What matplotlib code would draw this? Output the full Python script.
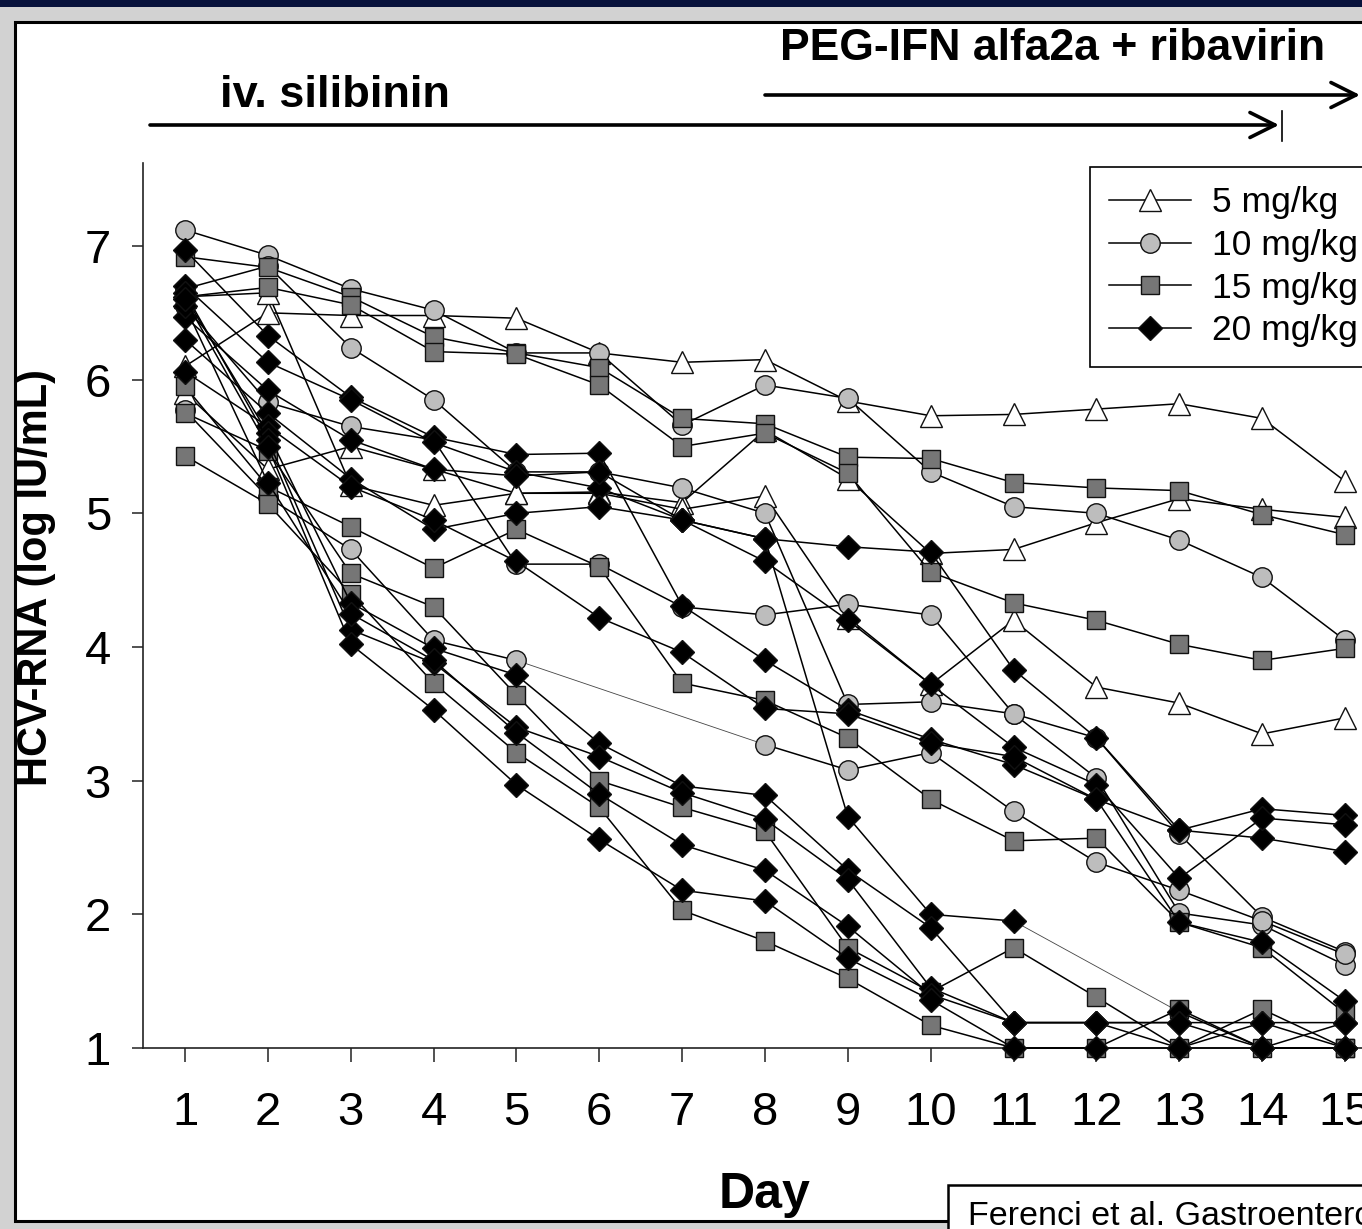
import numpy as np
import matplotlib
matplotlib.use('Agg')
import matplotlib.pyplot as plt
from matplotlib.patches import Rectangle, FancyArrowPatch
from matplotlib.lines import Line2D

plt.rcParams['font.family'] = ['Liberation Sans', 'DejaVu Sans']

nan = float('nan')
days = list(range(1, 16))
day_ticks = list(range(1, 16))
y_ticks = [1, 2, 3, 4, 5, 6, 7]

# 5 mg/kg
dose5_a = [6.10, 6.50, 6.48, 6.48, 6.46, 6.20, 6.13, 6.15, 5.84, 5.73, 5.74, 5.78, 5.82, 5.71, 5.24]
dose5_b = [5.90, 5.33, 5.50, 5.33, 5.15, 5.16, 5.08, 5.62, 5.26, 4.70, 4.73, 4.93, 5.11, 5.03, 4.97]
dose5_c = [6.62, 6.65, 5.21, 5.06, 5.15, 5.15, 5.03, 5.13, 4.22, 3.72, 4.20, 3.70, 3.58, 3.35, 3.47]
# 10 mg/kg
dose10_a = [7.12, 6.93, 6.68, 6.52, 6.20, 6.20, 5.66, 5.96, 5.86, 5.31, 5.05, 5.00, 4.80, 4.52, 4.05]
dose10_b = [6.68, 6.85, 6.24, 5.85, 5.31, 5.31, 5.19, 5.00, 3.57, 3.59, 3.50, 3.02, 2.01, 1.92, 1.62]
dose10_c = [6.55, 5.83, 5.65, 5.55, 4.62, 4.62, 4.30, 4.24, 4.32, 4.24, 3.50, 3.32, 2.60, 1.98, 1.72]
dose10_d = [5.77, 5.12, 4.73, 4.05, 3.90, nan, nan, 3.27, 3.08, 3.21, 2.77, 2.39, 2.18, 1.95, 1.70]
# 15 mg/kg
dose15_a = [6.92, 6.84, 6.62, 6.32, 6.20, 6.09, 5.71, 5.67, 5.42, 5.41, 5.23, 5.19, 5.17, 4.99, 4.84]
dose15_b = [6.62, 6.69, 6.56, 6.21, 6.19, 5.96, 5.50, 5.60, 5.30, 4.56, 4.33, 4.20, 4.02, 3.90, 3.99]
dose15_c = [5.95, 5.20, 4.90, 4.59, 4.88, 4.60, 3.73, 3.60, 3.32, 2.86, 2.55, 2.57, 1.94, 1.75, 1.26]
dose15_d = [5.75, 5.47, 4.55, 4.30, 3.64, 3.00, 2.80, 2.62, 1.75, 1.42, 1.75, 1.38, 1.00, 1.29, 1.00]
dose15_e = [5.43, 5.07, 4.40, 3.73, 3.21, 2.80, 2.03, 1.80, 1.52, 1.17, 1.00, 1.00, 1.29, 1.00, 1.00]
# 20 mg/kg
dose20_a = [6.97, 6.33, 5.87, 5.57, 5.44, 5.45, 4.31, 3.90, 3.53, 3.31, 3.12, 2.86, 2.63, 2.57, 2.47]
dose20_b = [6.70, 6.13, 5.85, 5.53, 5.31, 5.19, 4.95, 4.81, 4.75, 4.71, 3.83, 3.32, 2.63, 2.79, 2.74]
dose20_c = [6.47, 5.92, 5.55, 5.33, 5.28, 5.31, 4.95, 4.64, 4.20, 3.72, 3.25, 2.97, 2.27, 2.72, 2.67]
dose20_d = [6.30, 5.75, 5.26, 4.88, 5.00, 5.05, 4.95, 4.81, 2.73, 2.00, 1.95, nan, 1.27, 1.00, 1.00]
dose20_e = [6.06, 5.65, 5.20, 4.95, 4.64, 4.22, 3.96, 3.54, 3.50, 3.28, 3.18, 2.86, 1.94, 1.79, 1.35]
dose20_f = [6.62, 5.60, 4.33, 3.99, 3.79, 3.28, 2.96, 2.89, 2.33, 1.90, 1.19, 1.19, 1.19, 1.19, 1.19]
dose20_g = [6.65, 5.55, 4.13, 3.88, 3.40, 3.18, 2.91, 2.71, 2.26, 1.45, 1.19, 1.19, 1.00, 1.19, 1.00]
dose20_h = [6.55, 5.23, 4.25, 3.90, 3.36, 2.90, 2.52, 2.33, 1.91, 1.40, 1.19, 1.19, 1.19, 1.00, 1.19]
dose20_i = [6.60, 5.50, 4.02, 3.53, 2.97, 2.56, 2.18, 2.10, 1.67, 1.36, 1.00, 1.00, 1.00, 1.00, 1.00]

groups = [
    ('5 mg/kg', [dose5_a, dose5_b, dose5_c]),
    ('10 mg/kg', [dose10_a, dose10_b, dose10_c, dose10_d]),
    ('15 mg/kg', [dose15_a, dose15_b, dose15_c, dose15_d, dose15_e]),
    ('20 mg/kg', [dose20_a, dose20_b, dose20_c, dose20_d, dose20_e,
                  dose20_f, dose20_g, dose20_h, dose20_i]),
]
styles = {
    '5 mg/kg': dict(marker='^', mfc='white', ms=16),
    '10 mg/kg': dict(marker='o', mfc='#bdbdbd', ms=14),
    '15 mg/kg': dict(marker='s', mfc='#767676', ms=13.5),
    '20 mg/kg': dict(marker='D', mfc='black', ms=12.5),
}

W, H = 1362, 1229
fig = plt.figure(figsize=(W / 100, H / 100), dpi=100)
fig.patch.set_facecolor('#d2d2d2')

def fx(x):
    return x / W

def fy(y):
    return 1 - y / H

# background frame
fig.add_artist(Rectangle((0, fy(7)), 1, 7 / H, transform=fig.transFigure,
                         facecolor='#08123c', edgecolor='none', zorder=-20))
fig.add_artist(Rectangle((fx(15), fy(1221)), fx(1400) - fx(15), fy(22) - fy(1221),
                         transform=fig.transFigure, facecolor='white',
                         edgecolor='black', lw=2.2, zorder=-10))

px_per_day = (1345 - 185) / 14.0
x_left = 1 - (185 - 143) / px_per_day
x_right = 1 + (1386 - 185) / px_per_day
px_per_unit = (1048 - 246) / 6.0
y_top = 7 + (246 - 163) / px_per_unit

ax = fig.add_axes([fx(143), fy(1048), fx(1386) - fx(143), fy(163) - fy(1048)])
ax.set_facecolor('none')
ax.set_xlim(x_left, x_right)
ax.set_ylim(1, y_top)
for s in ['top', 'right']:
    ax.spines[s].set_visible(False)
for s in ['left', 'bottom']:
    ax.spines[s].set_linewidth(1.2)
    ax.spines[s].set_color('#222222')

ax.set_xticks(day_ticks)
ax.set_yticks(y_ticks)
ax.tick_params(axis='y', direction='out', length=8, width=1.1, pad=15,
               labelsize=34, color='#222222')
ax.tick_params(axis='x', direction='out', length=10, width=1.1, pad=21,
               labelsize=34, color='#222222')

d = np.array(days, dtype=float)
for label, series in groups:
    st = styles[label]
    for vals in series:
        v = np.array(vals, dtype=float)
        ax.plot(d, v, color='black', lw=1.1, marker=st['marker'],
                mfc=st['mfc'], mec='#111111', mew=1.0, ms=st['ms'],
                clip_on=False, zorder=3)
        # thin connectors across missing values
        finite = np.where(np.isfinite(v))[0]
        for a, b in zip(finite[:-1], finite[1:]):
            if b - a > 1:
                ax.plot([d[a], d[b]], [v[a], v[b]], color='#444444', lw=0.6,
                        zorder=2.9, clip_on=False)

ax.set_xlabel('Day', fontsize=36, fontweight='bold')
ax.xaxis.set_label_coords((765 - 143) / (1386 - 143), (1048 - 1172) / (1048 - 163))
ax.set_ylabel('HCV-RNA (log IU/mL)', fontsize=30, fontweight='bold')
ax.yaxis.set_label_coords((56 - 143) / (1386 - 143), (1048 - 577) / (1048 - 163))

handles = [Line2D([0], [0], color='black', lw=1.1, marker=styles[k]['marker'],
                  mfc=styles[k]['mfc'], mec='#111111', mew=1.0, ms=styles[k]['ms'])
           for k, _ in groups]
leg = ax.legend(handles, [k for k, _ in groups], loc='upper left',
                bbox_to_anchor=(fx(1090), fy(167)), bbox_transform=fig.transFigure,
                borderaxespad=0, fontsize=25.5, handlelength=2.3, handletextpad=0.6,
                labelspacing=0.27, borderpad=0.55, fancybox=False, framealpha=1,
                edgecolor='black')
leg.get_frame().set_linewidth(1.2)
leg.set_zorder(5)

# treatment annotations
fig.text(fx(220), fy(107), 'iv. silibinin', fontsize=32.5, fontweight='bold',
         ha='left', va='baseline')
fig.text(fx(780), fy(60), 'PEG-IFN alfa2a + ribavirin', fontsize=32,
         fontweight='bold', ha='left', va='baseline')
arrow_kw = dict(arrowstyle='->,head_length=0.9,head_width=0.45', lw=2.6,
                color='black', mutation_scale=20, shrinkA=0, shrinkB=0,
                transform=fig.transFigure, zorder=6)
fig.add_artist(FancyArrowPatch((fx(150), fy(125)), (fx(1279), fy(125)), **arrow_kw))
fig.add_artist(Line2D([fx(1282), fx(1282)], [fy(111), fy(141)], color='black',
                      lw=1.2, transform=fig.transFigure, zorder=6))
fig.add_artist(FancyArrowPatch((fx(765), fy(95)), (fx(1360), fy(95)), **arrow_kw))

# citation box
fig.add_artist(Rectangle((fx(948), fy(1245)), fx(1420) - fx(948), fy(1185) - fy(1245),
                         transform=fig.transFigure, facecolor='white',
                         edgecolor='black', lw=1.8, zorder=7))
fig.text(fx(968), fy(1225), 'Ferenci et al. Gastroenterology 2008', fontsize=24.5,
         ha='left', va='baseline', zorder=8)

fig.savefig('out.png', dpi=100)
